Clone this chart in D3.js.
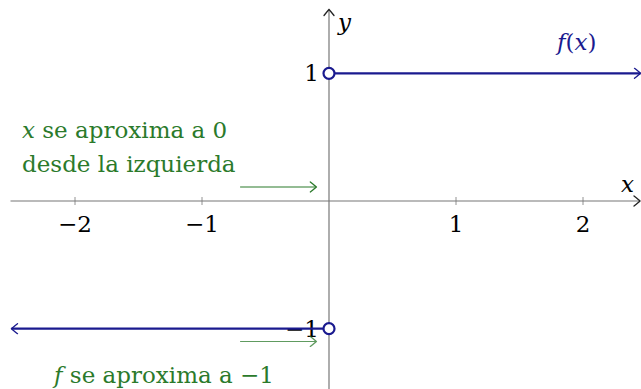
<!DOCTYPE html>
<html>
<head>
<meta charset="utf-8">
<script src="https://cdn.jsdelivr.net/npm/d3@7"></script>
<style>
  body { margin: 0; background: #fff; }
</style>
</head>
<body>
<script>
// datos de la funcion escalon
var xTicks = [-2, -1, 1, 2];
var yTicks = [1, -1];
var pieceX0 = [0, -2.5];
var pieceX1 = [2.5, 0];
var pieceY = [1, -1];
var holeX = [0, 0];
var holeY = [1, -1];
// flechas verdes (x inicio, x fin, y)
var noteX0 = [-0.7, -0.7];
var noteX1 = [-0.1, -0.1];
var noteY = [0.11, -1.1];

var width = 641, height = 389;
var navy = "#1a1a8f", green = "#2b7a2b", axisCol = "#777";
var fontFam = "'DejaVu Serif', serif";
var fs = 23;

var svg = d3.select("body").append("svg")
    .attr("width", width).attr("height", height)
    .attr("font-family", fontFam);

var x = d3.scaleLinear().domain([-2.5, 2.5]).range([11.5, 646.5]);
var y = d3.scaleLinear().domain([-1.5, 1.5]).range([392.5, 9.5]);

// flecha tipo latex
function chevron(id, color) {
  svg.append("defs").append("marker")
      .attr("id", id)
      .attr("viewBox", "-8 -6 10 12")
      .attr("markerWidth", 10).attr("markerHeight", 12)
      .attr("markerUnits", "userSpaceOnUse")
      .attr("refX", 0).attr("refY", 0)
      .attr("orient", "auto-start-reverse")
    .append("path")
      .attr("d", "M-6,-5 Q-1,-1 0,0 Q-1,1 -6,5")
      .attr("fill", "none")
      .attr("stroke", color)
      .attr("stroke-width", 1.3)
      .attr("stroke-linecap", "round");
}
chevron("ax", "#222");
chevron("fn", navy);
chevron("gr", green);

// ejes
svg.append("line")
    .attr("x1", x(-2.5) - 1).attr("x2", width - 1)
    .attr("y1", y(0)).attr("y2", y(0))
    .attr("stroke", axisCol).attr("stroke-width", 1.2)
    .attr("marker-end", "url(#ax)");
svg.append("line")
    .attr("x1", x(0)).attr("x2", x(0))
    .attr("y1", height).attr("y2", y(1.5))
    .attr("stroke", axisCol).attr("stroke-width", 1.2)
    .attr("marker-end", "url(#ax)");

svg.selectAll(".xt").data(xTicks).enter().append("line")
    .attr("x1", d => x(d)).attr("x2", d => x(d))
    .attr("y1", y(0) - 4).attr("y2", y(0) + 4)
    .attr("stroke", axisCol).attr("stroke-width", 0.8);

svg.selectAll(".xl").data(xTicks).enter().append("text")
    .attr("x", d => x(d)).attr("y", y(0) + 31)
    .attr("text-anchor", "middle")
    .attr("font-size", fs)
    .text(d => d < 0 ? "\u2212" + Math.abs(d) : d);

svg.selectAll(".yl").data(yTicks).enter().append("text")
    .attr("x", x(0) - 10).attr("y", d => y(d) + 8)
    .attr("text-anchor", "end")
    .attr("font-size", fs)
    .text(d => d < 0 ? "\u2212" + Math.abs(d) : d);

svg.append("text").attr("x", 621).attr("y", 192)
    .attr("font-size", fs).attr("font-style", "italic").text("x");
svg.append("text").attr("x", 338).attr("y", 30)
    .attr("font-size", fs).attr("font-style", "italic").text("y");

// tramos de la funcion
pieceY.forEach(function (v, i) {
  svg.append("line")
      .attr("x1", x(pieceX0[i])).attr("x2", x(pieceX1[i]) - (i == 0 ? 6 : 0))
      .attr("y1", y(v)).attr("y2", y(v))
      .attr("stroke", navy).attr("stroke-width", 2.2)
      .attr(i == 0 ? "marker-end" : "marker-start", "url(#fn)");
});

svg.selectAll(".hole").data(holeX).enter().append("circle")
    .attr("cx", d => x(d)).attr("cy", (d, i) => y(holeY[i]))
    .attr("r", 5.5)
    .attr("fill", "#fff").attr("stroke", navy).attr("stroke-width", 2.2);

svg.append("text").attr("x", 557).attr("y", 50)
    .attr("font-size", fs).attr("fill", navy)
    .html('<tspan font-style="italic">f</tspan>(<tspan font-style="italic">x</tspan>)');

// flechas y notas verdes
noteY.forEach(function (v, i) {
  svg.append("line")
      .attr("x1", x(noteX0[i])).attr("x2", x(noteX1[i]))
      .attr("y1", y(v)).attr("y2", y(v))
      .attr("stroke", green).attr("stroke-width", 1.1)
      .attr("opacity", i == 0 ? 1 : 0.75)
      .attr("marker-end", "url(#gr)");
});

svg.append("text").attr("x", 22).attr("y", 138)
    .attr("font-size", fs).attr("fill", green)
    .html('<tspan font-style="italic">x</tspan> se aproxima a 0');
svg.append("text").attr("x", 22).attr("y", 172)
    .attr("font-size", fs).attr("fill", green)
    .text("desde la izquierda");
svg.append("text").attr("x", 54).attr("y", 383)
    .attr("font-size", fs).attr("fill", green)
    .html('<tspan font-style="italic">f</tspan> se aproxima a \u22121');
</script>
</body>
</html>
